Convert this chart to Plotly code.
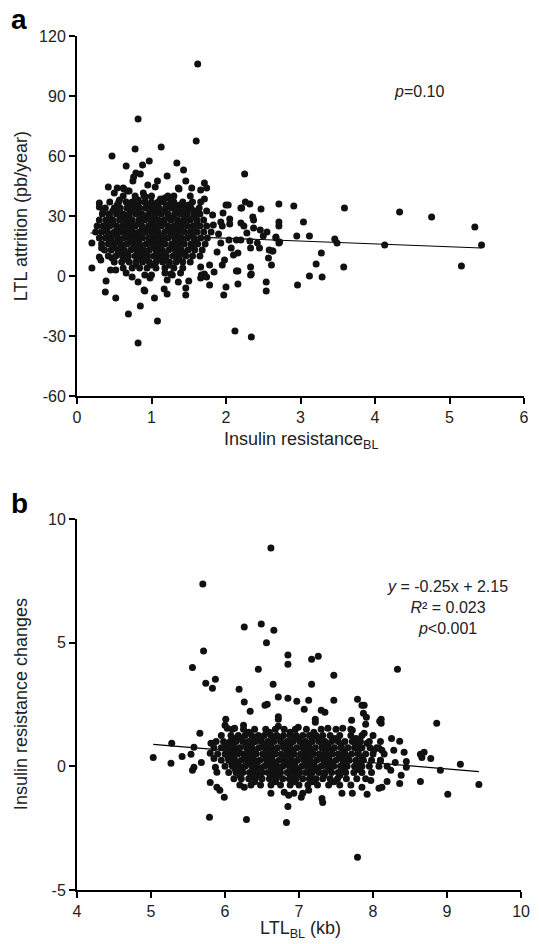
import plotly.graph_objects as go

FONT = "Liberation Sans, Arial, sans-serif"

# ---------------- Panel a: LTL attrition vs insulin resistance (baseline) ----------------
a_scatter = [
    (1.62, 106), (0.82, 78.5), (1.6, 67.5), (0.78, 63.5), (1.13, 64.5), (0.47, 60), (0.66, 55),
    (0.88, 55.5), (0.97, 57.5), (1.34, 56.5), (1.43, 53), (1.21, 50), (2.25, 51), (0.79, 51.5),
    (0.85, 51), (0.75, 47.5), (1.46, 47.5), (1.71, 46.5), (1.54, 44), (0.42, 44.5), (0.54, 44),
    (0.63, 43.5), (0.70, 42.5), (1.36, 44), (1.66, 43), (1.74, 44), (0.5, 41.5), (1.08, 47.5),
    (0.95, 45.5), (1.25, 38.5), (1.71, 38.5), (2.26, 37), (2.32, 36), (0.3, 36.5), (0.3, 34.5),
    (0.35, 32), (2.47, 33.5), (2.2, 34), (0.76, 49.5), (1.05, 44.5), (1.37, 43.5), (0.89, 41.5),
    (0.92, 39.5), (1.18, 39), (1.29, 39.5), (0.57, 38), (0.82, 38), (1.09, 36.5), (1.38, 35.5),
    (1.49, 33), (1.58, 32.5), (1.74, 32.5), (1.82, 30.5), (1.47, 29.5), (0.68, 42.5), (0.62, 44),
    (2.71, 36), (2.91, 35), (3.59, 34), (4.33, 32), (4.76, 29.5), (5.34, 24.5), (2.71, 27),
    (2.71, 25), (3.04, 27), (2.67, 19.5), (2.95, 20), (3.12, 20), (3.46, 18.5), (2.71, 16.5),
    (3.49, 16.5), (4.13, 15.5), (5.43, 15.5), (3.28, 11.5), (2.58, 13), (2.62, 12.5), (2.57, 9),
    (2.61, 5.5), (3.21, 6), (3.58, 4.5), (5.16, 5), (3.12, 0), (3.29, -0.5), (2.96, -4.5),
    (2.54, -3), (2.54, -7.5),
    (2.0, 35.5), (2.03, 35.5), (2.21, 34), (1.96, 31.5), (2.36, 29.5), (2.37, 28), (2.05, 28.5),
    (2.05, 26), (2.2, 26.5), (2.24, 25), (1.93, 27), (1.95, 25), (1.83, 25.5), (2.37, 24),
    (2.46, 23), (2.5, 20), (2.67, 19), (2.72, 17), (2.32, 17.5), (2.42, 16.5), (2.45, 14),
    (2.14, 18), (2.2, 18), (2.04, 18), (1.93, 16.5), (2.07, 14), (2.33, 14), (2.1, 10.5),
    (2.16, 11.5), (2.63, 12.5), (2.14, 2.5), (2.33, 4.5), (2.33, 0.5), (2.16, -4), (2.0, -5.5),
    (1.97, -9.5), (1.95, 5.5), (1.78, -4.5), (1.84, 2), (1.78, 5.5), (1.66, 4.5), (1.9, 21),
    (1.88, 12), (1.98, 8), (2.28, 21.5), (2.55, 22),
    (0.2, 4), (0.39, -2.5), (0.38, -8), (0.52, -11), (0.69, -19), (0.85, -15), (1.08, -22.5),
    (0.82, -33.5), (1.04, -11), (0.91, -7.5), (1.17, -6.5), (1.21, -9), (1.36, -3), (1.46, -6),
    (1.46, -9.5), (1.5, -2.5), (2.12, -27.5), (2.34, -30.5), (2.16, 2.5), (2.34, 1), (0.45, 3),
    (0.52, 3), (0.66, 1.5), (0.74, -0.5), (0.82, -3), (0.98, -1), (1.18, 1.5), (1.26, 1),
    (1.39, 1.5), (1.66, -1), (1.71, 1), (0.3, 9.5), (0.32, 8), (0.47, 9), (0.9, -7), (0.2, 16.5),
    (0.33, 14), (1.0, 0.5), (1.28, 0.5), (1.67, 0.5), (1.74, -0.5), (0.91, 0.5), (1.21, -2),
]

# dense core of panel a, one row per attrition level
a_core_rows = [
    (40, [0.62, 0.78, 0.9, 1.0, 1.22, 1.3, 1.52]),
    (37, [0.44, 0.56, 0.66, 0.74, 0.83, 0.91, 1.0, 1.09, 1.16, 1.3, 1.42, 1.55, 1.66]),
    (34, [0.38, 0.5, 0.58, 0.67, 0.75, 0.84, 0.92, 1.01, 1.1, 1.19, 1.27, 1.36, 1.45, 1.53, 1.64]),
    (31, [0.34, 0.43, 0.53, 0.62, 0.7, 0.79, 0.87, 0.96, 1.05, 1.13, 1.22, 1.31, 1.39, 1.48, 1.57, 1.65]),
    (28, [0.3, 0.39, 0.48, 0.57, 0.66, 0.74, 0.83, 0.91, 1.0, 1.09, 1.17, 1.26, 1.35, 1.43, 1.52, 1.61, 1.7]),
    (25, [0.27, 0.35, 0.44, 0.53, 0.61, 0.7, 0.78, 0.87, 0.96, 1.04, 1.13, 1.22, 1.3, 1.39, 1.48, 1.56, 1.65, 1.74]),
    (22, [0.25, 0.33, 0.41, 0.5, 0.58, 0.66, 0.75, 0.83, 0.92, 1.0, 1.09, 1.18, 1.26, 1.35, 1.44, 1.52, 1.61, 1.7, 1.8]),
    (19, [0.3, 0.38, 0.46, 0.55, 0.63, 0.71, 0.8, 0.88, 0.97, 1.05, 1.14, 1.22, 1.31, 1.4, 1.48, 1.57, 1.66, 1.75]),
    (16, [0.33, 0.42, 0.5, 0.59, 0.67, 0.76, 0.84, 0.93, 1.01, 1.1, 1.18, 1.27, 1.36, 1.44, 1.53, 1.62, 1.72]),
    (13, [0.37, 0.46, 0.55, 0.63, 0.72, 0.8, 0.89, 0.97, 1.06, 1.14, 1.23, 1.32, 1.4, 1.49, 1.58, 1.68]),
    (10, [0.42, 0.52, 0.61, 0.69, 0.78, 0.86, 0.95, 1.03, 1.12, 1.2, 1.29, 1.37, 1.46, 1.55, 1.65]),
    (7, [0.5, 0.6, 0.7, 0.79, 0.88, 0.97, 1.06, 1.15, 1.24, 1.33, 1.42, 1.52]),
    (4, [0.62, 0.74, 0.84, 0.94, 1.06, 1.18, 1.3, 1.42]),
]

# second, in-between set of dense-core rows for panel a (patchier)
a_core_rows_2 = [
    (38.5, [0.79, 1.12]),
    (35.5, [0.54, 0.71, 0.8, 0.97, 1.06, 1.23, 1.32, 1.5]),
    (32.5, [0.48, 0.57, 0.74, 0.83, 1.0, 1.09, 1.18, 1.35, 1.44]),
    (29.5, [0.44, 0.61, 0.7, 0.87, 0.95, 1.04, 1.22, 1.3, 1.48, 1.57]),
    (26.5, [0.4, 0.48, 0.65, 0.74, 0.83, 1.0, 1.09, 1.17, 1.35, 1.44, 1.61]),
    (23.5, [0.37, 0.54, 0.62, 0.71, 0.88, 0.96, 1.05, 1.22, 1.31, 1.4, 1.57]),
    (20.5, [0.42, 0.5, 0.67, 0.76, 0.84, 1.01, 1.1, 1.27, 1.36, 1.53]),
    (17.5, [0.46, 0.55, 0.72, 0.8, 0.97, 1.06, 1.14, 1.32, 1.4, 1.58]),
    (14.5, [0.5, 0.59, 0.76, 0.85, 1.02, 1.1, 1.27, 1.36, 1.54]),
    (11.5, [0.56, 0.65, 0.82, 0.91, 1.08, 1.16, 1.33, 1.42]),
    (8.5, [0.65, 0.83, 0.92, 1.1, 1.19, 1.37]),
    (5.5, [0.79, 1.0, 1.24]),
]

fit_a_x = [0.18, 5.43]
fit_a_y = [21.5, 14.0]

a_yticks = [-60, -30, 0, 30, 60, 90, 120]
a_yticklabels = ["-60", "-30", "0", "30", "60", "90", "120"]
a_xticks = [0, 1, 2, 3, 4, 5, 6]

# ---------------- Panel b: insulin resistance changes vs LTL (baseline) ----------------
b_scatter = [
    (5.70, 7.37), (6.62, 8.83), (6.26, 5.63), (6.49, 5.75), (6.56, 5.0), (5.71, 4.66), (5.56, 4.0),
    (6.45, 3.93), (5.74, 3.36), (5.87, 3.52), (5.83, 3.16), (6.19, 3.12), (6.26, 2.6), (6.34, 2.23),
    (6.54, 2.47), (6.01, 1.9), (6.66, 5.5), (6.85, 4.5), (6.85, 4.13), (7.17, 4.33), (7.26, 4.45),
    (7.47, 3.68), (8.33, 3.93), (6.65, 3.32), (7.17, 3.32), (6.72, 2.8), (6.85, 2.75), (6.97, 2.63),
    (7.13, 2.67), (7.07, 2.31), (7.47, 2.67), (7.79, 2.71), (7.85, 2.47), (7.3, 2.27), (7.35, 2.19),
    (7.87, 2.15), (7.91, 1.98), (6.72, 2.0), (7.22, 1.9), (7.71, 1.86), (8.11, 1.9), (6.57, 2.51),
    (6.72, 1.9), (8.09, 1.82), (8.86, 1.74),
    (5.66, 1.34), (5.28, 0.93), (5.03, 0.36), (5.27, 0.12), (5.42, 0.4), (5.54, 0.49), (5.68, 0.16),
    (5.58, -0.04), (5.56, -0.16), (5.8, -0.65), (5.89, -0.85), (5.93, -0.97), (5.99, -1.25),
    (5.79, -2.06), (6.29, -2.15), (6.83, -2.27), (6.85, -1.62), (6.26, -0.85), (6.62, -1.09),
    (6.86, -1.17), (6.93, -1.09), (7.13, -0.97), (7.31, -1.3), (7.32, -1.46), (7.58, -1.09),
    (7.72, -1.09), (7.92, -1.13), (7.85, -0.85), (7.79, -3.68), (7.03, -1.25), (7.05, -1.09),
    (6.8, -1.05), (5.58, 0.77),
    (8.25, 1.13), (8.36, 1.01), (8.28, 0.65), (8.42, 0.57), (8.64, 0.49), (8.69, 0.57), (8.66, 0.36),
    (8.78, 0.32), (8.45, 0.2), (8.45, -0.04), (8.3, 0.16), (9.18, 0.08), (8.91, -0.16), (8.38, -0.36),
    (8.64, -0.61), (8.36, -0.69), (9.43, -0.73), (9.01, -1.13), (8.08, -0.89), (8.12, -0.85),
    (8.19, -0.61), (7.97, -0.57), (8.12, 0.65), (8.08, 0.73), (8.01, 0.65), (7.92, 0.93), (8.1, 0.24),
    (8.19, 0.0), (8.24, -0.16),
    (7.88, 2.47), (7.9, 1.7), (6.72, 1.62), (6.99, 1.58), (7.22, 1.78), (7.39, 1.54), (7.59, 1.54),
    (7.72, 1.46), (7.88, 1.34), (8.11, 1.74), (5.81, 0.93), (5.8, 0.53), (5.85, 0.32), (5.87, -0.04),
    (5.89, -0.24), (6.0, 1.66), (6.03, 1.54), (6.13, 1.54), (6.25, 1.66),
]

# dense core of panel b, one row per change level
b_core_rows = [
    (1.5, [6.1, 6.25, 6.4, 6.55, 6.68, 6.8, 6.95, 7.1, 7.3, 7.5, 7.7]),
    (1.25, [5.95, 6.08, 6.18, 6.27, 6.36, 6.45, 6.53, 6.62, 6.7, 6.79, 6.88, 6.96, 7.05, 7.14, 7.23,
            7.32, 7.42, 7.55, 7.7, 7.85, 8.0]),
    (1.0, [5.88, 5.98, 6.07, 6.15, 6.24, 6.32, 6.41, 6.49, 6.58, 6.66, 6.75, 6.84, 6.92, 7.01, 7.09,
           7.18, 7.27, 7.35, 7.44, 7.53, 7.62, 7.72, 7.83, 7.95, 8.1]),
    (0.75, [5.85, 5.95, 6.03, 6.12, 6.2, 6.29, 6.37, 6.46, 6.54, 6.63, 6.71, 6.8, 6.88, 6.97, 7.05,
            7.14, 7.22, 7.31, 7.4, 7.48, 7.57, 7.66, 7.75, 7.85, 7.96, 8.05]),
    (0.5, [5.9, 6.0, 6.08, 6.17, 6.25, 6.34, 6.42, 6.51, 6.59, 6.68, 6.76, 6.85, 6.93, 7.02, 7.1,
           7.19, 7.27, 7.36, 7.45, 7.53, 7.62, 7.71, 7.8, 7.9, 8.0, 8.15]),
    (0.25, [5.95, 6.05, 6.13, 6.22, 6.3, 6.39, 6.47, 6.56, 6.64, 6.73, 6.81, 6.9, 6.98, 7.07, 7.15,
            7.24, 7.33, 7.41, 7.5, 7.59, 7.68, 7.77, 7.87, 7.98, 8.1]),
    (0.0, [6.0, 6.1, 6.19, 6.27, 6.36, 6.44, 6.53, 6.61, 6.7, 6.78, 6.87, 6.95, 7.04, 7.12, 7.21,
           7.3, 7.38, 7.47, 7.56, 7.65, 7.75, 7.85, 7.95, 8.08]),
    (-0.25, [6.05, 6.15, 6.24, 6.33, 6.41, 6.5, 6.58, 6.67, 6.75, 6.84, 6.92, 7.01, 7.09, 7.18,
             7.27, 7.35, 7.44, 7.53, 7.63, 7.74, 7.85, 7.98]),
    (-0.5, [6.12, 6.22, 6.32, 6.41, 6.5, 6.6, 6.69, 6.78, 6.87, 6.96, 7.05, 7.14, 7.23, 7.32, 7.42,
            7.52, 7.64, 7.78, 7.9]),
    (-0.75, [6.2, 6.35, 6.48, 6.62, 6.75, 6.88, 7.0, 7.12, 7.25, 7.4, 7.55, 7.7]),
]

# second, in-between set of dense-core rows for panel b (patchier)
b_core_rows_2 = [
    (1.375, [6.32, 6.6, 6.88, 7.2]),
    (1.125, [6.12, 6.22, 6.4, 6.49, 6.66, 6.75, 6.92, 7.0, 7.18, 7.27, 7.48, 7.77]),
    (0.875, [6.02, 6.11, 6.28, 6.36, 6.53, 6.62, 6.79, 6.88, 7.05, 7.13, 7.31, 7.39, 7.57, 7.78]),
    (0.625, [6.07, 6.16, 6.33, 6.41, 6.58, 6.67, 6.84, 6.92, 7.09, 7.18, 7.35, 7.44, 7.61, 7.8]),
    (0.375, [6.04, 6.12, 6.29, 6.38, 6.55, 6.63, 6.8, 6.89, 7.06, 7.14, 7.31, 7.4, 7.57, 7.66, 7.85]),
    (0.125, [6.09, 6.17, 6.34, 6.43, 6.6, 6.68, 6.85, 6.94, 7.11, 7.19, 7.37, 7.45, 7.63, 7.82]),
    (-0.125, [6.14, 6.23, 6.4, 6.48, 6.65, 6.74, 6.91, 6.99, 7.16, 7.25, 7.42, 7.6, 7.8]),
    (-0.375, [6.2, 6.37, 6.46, 6.63, 6.72, 6.89, 6.98, 7.16, 7.34, 7.55]),
    (-0.625, [6.4, 6.68, 6.94, 7.18, 7.47]),
]

fit_b_x = [5.03, 9.43]
fit_b_y = [0.89, -0.21]

b_yticks = [-5, 0, 5, 10]
b_yticklabels = ["-5", "0", "5", "10"]
b_xticks = [4, 5, 6, 7, 8, 9, 10]

# ---------------- assemble ----------------
def flatten(scatter, *row_sets):
    xs = [p[0] for p in scatter]
    ys = [p[1] for p in scatter]
    for rows in row_sets:
        for yv, row in rows:
            xs.extend(row)
            ys.extend([yv] * len(row))
    return xs, ys

a_x, a_y = flatten(a_scatter, a_core_rows, a_core_rows_2)
b_x, b_y = flatten(b_scatter, b_core_rows, b_core_rows_2)

DOT = dict(color="#111111", size=7, line=dict(width=0))

fig = go.Figure()
fig.add_trace(go.Scatter(x=fit_a_x, y=fit_a_y, mode="lines", line=dict(color="#000", width=1.2),
                         xaxis="x", yaxis="y", showlegend=False))
fig.add_trace(go.Scatter(x=a_x, y=a_y, mode="markers", marker=DOT, xaxis="x", yaxis="y",
                         showlegend=False, cliponaxis=False))
fig.add_trace(go.Scatter(x=fit_b_x, y=fit_b_y, mode="lines", line=dict(color="#000", width=1.2),
                         xaxis="x2", yaxis="y2", showlegend=False))
fig.add_trace(go.Scatter(x=b_x, y=b_y, mode="markers", marker=DOT, xaxis="x2", yaxis="y2",
                         showlegend=False, cliponaxis=False))

axis_common = dict(showline=True, linecolor="#000", linewidth=2, ticks="outside", ticklen=6,
                   tickwidth=1.5, tickcolor="#000", showgrid=False, zeroline=False,
                   tickfont=dict(family=FONT, size=16, color="#222"))

W, H = 539, 944
L, R, T, B = 77, 6, 36, 54
PW, PH = W - L - R, H - T - B

def px(xp):
    return (xp - L) / PW

def py(yp):
    return 1 - (yp - T) / PH

fig.update_layout(
    width=W, height=H, margin=dict(l=L, r=R, t=T, b=B),
    paper_bgcolor="white", plot_bgcolor="white",
    font=dict(family=FONT, color="#222"),
    xaxis=dict(domain=[0, 1], range=[0, 6], tickvals=a_xticks, anchor="y", **axis_common),
    yaxis=dict(domain=[py(396), 1], range=[-60, 120], tickvals=a_yticks, ticktext=a_yticklabels,
               anchor="x", **axis_common),
    xaxis2=dict(domain=[0, px(530)], range=[4, 10], tickvals=b_xticks, anchor="y2", **axis_common),
    yaxis2=dict(domain=[0, py(519)], range=[-5, 10], tickvals=b_yticks, ticktext=b_yticklabels,
                anchor="x2", **axis_common),
)

ann = []
def add(text, x, y, size, **kw):
    d = dict(text=text, x=px(x), y=py(y), xref="paper", yref="paper", showarrow=False,
             font=dict(family=FONT, size=size, color=kw.pop("color", "#222")),
             xanchor=kw.pop("xanchor", "center"), yanchor=kw.pop("yanchor", "middle"))
    d.update(kw)
    ann.append(d)

add("<b>a</b>", 18, 19, 28, color="#000")
add("<b>b</b>", 18, 503, 28, color="#000")
add("LTL attrition (pb/year)", 20, 216, 18, textangle=-90)
add("Insulin resistance changes", 20, 704, 18, textangle=-90)
add("Insulin resistance<sub>BL</sub>", 305, 440, 18)
add("LTL<sub>BL</sub> (kb)", 305, 929, 18)
add("<i>p</i>=0.10", 426, 92, 16)
add("<i>y</i> = -0.25x + 2.15<br><i>R</i>² = 0.023<br><i>p</i>&lt;0.001", 455, 607, 16, align="center")

fig.update_layout(annotations=ann)
fig.write_html("out.html")
